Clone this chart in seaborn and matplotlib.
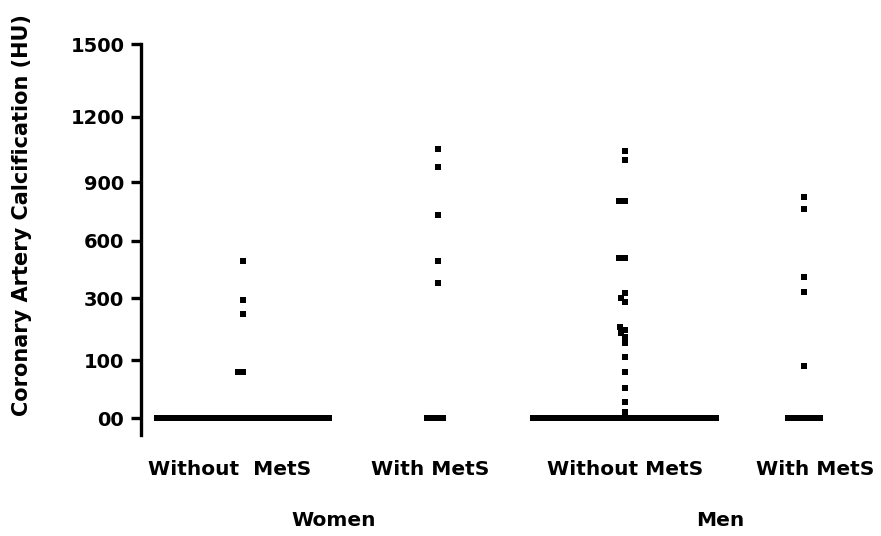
import matplotlib
matplotlib.use("Agg")
import matplotlib.pyplot as plt
import numpy as np
import pandas as pd
import seaborn as sns


GROUPS = ["women_without", "women_with", "men_without", "men_with"]
CATEGORY_LABELS = ["Without  MetS", "With MetS", "Without MetS", "With MetS"]
SEX_LABELS = ["Women", "Men"]

# number of subjects sitting at 0 HU in each group
ZERO_COUNTS = [33, 4, 35, 7]

# non-zero calcification scores (HU)
WOMEN_WITHOUT = [80, 80, 247, 293, 495]
WOMEN_WITH = [381, 495, 731, 968, 1052]
MEN_WITHOUT = [11, 28, 52, 80, 111, 154, 175, 186, 197, 207, 286, 299, 325,
               512, 512, 805, 805, 1002, 1044]
MEN_WITH = [90, 330, 412, 763, 825]

TICK_VALUES = [0, 100, 300, 600, 900, 1200, 1500]
TICK_LABELS = ["00", "100", "300", "600", "900", "1200", "1500"]

# the axis is segmented: each labelled value sits at this position on the axis
SCALE_VALUES = [-100] + TICK_VALUES
SCALE_POS = [-58, 0, 58, 120, 177, 236, 301, 374]

GROUP_POS = {"women_without": 0.0, "women_with": 0.52, "men_without": 1.02, "men_with": 1.5}
LABEL_POS = [-0.035, 0.5, 1.02, 1.53]
SEX_POS = [0.243, 1.275]


def fwd(v):
    return np.interp(v, SCALE_VALUES, SCALE_POS)


def inv(p):
    return np.interp(p, SCALE_POS, SCALE_VALUES)


def build_frame() -> pd.DataFrame:
    values = [WOMEN_WITHOUT, WOMEN_WITH, MEN_WITHOUT, MEN_WITH]
    rows = []
    for group, n_zero, vals in zip(GROUPS, ZERO_COUNTS, values):
        for v in [0] * n_zero + list(vals):
            rows.append({"group": group, "pos": GROUP_POS[group], "hu": v})
    return pd.DataFrame(rows)


def main() -> None:
    sns.set_theme(style="white")
    plt.rcParams["font.family"] = ["DejaVu Sans"]
    plt.rcParams["font.weight"] = "bold"
    plt.rcParams["text.color"] = "black"

    df = build_frame()

    fig = plt.figure(figsize=(8.81, 5.36), dpi=100)
    fig.patch.set_facecolor("white")
    ax = fig.add_axes([141 / 881, 101 / 536, (870 - 141) / 881, 391 / 536])
    ax.set_yscale("function", functions=(fwd, inv))

    for group in GROUPS:
        sns.swarmplot(
            data=df[df["group"] == group],
            x="pos",
            y="hu",
            native_scale=True,
            orient="x",
            color="black",
            marker="s",
            size=3.7,
            linewidth=0,
            ax=ax,
        )

    ax.set_xlim(-0.273, 1.676)
    ax.set_ylim(inv(-17), 1500)
    ax.set_xticks([])
    ax.set_yticks(TICK_VALUES, TICK_LABELS)
    ax.set_xlabel("")
    ax.set_ylabel("")

    for side in ["top", "right", "bottom"]:
        ax.spines[side].set_visible(False)
    ax.spines["left"].set_linewidth(2.4)
    ax.spines["left"].set_color("black")
    ax.tick_params(axis="y", left=True, length=7, width=2.4, pad=5,
                   labelsize=14, colors="black", direction="out")
    for lbl in ax.get_yticklabels():
        lbl.set_fontweight("bold")

    trans = ax.get_xaxis_transform()
    for x, label in zip(LABEL_POS, CATEGORY_LABELS):
        ax.text(x, -0.0895, label, transform=trans, ha="center", va="center",
                fontsize=14.5, fontweight="bold", color="black")
    for x, label in zip(SEX_POS, SEX_LABELS):
        ax.text(x, -0.2174, label, transform=trans, ha="center", va="center",
                fontsize=14.5, fontweight="bold", color="black")

    fig.text(22 / 881, (536 - 215) / 536, "Coronary Artery Calcification (HU)",
             rotation=90, ha="center", va="center", fontsize=15,
             fontweight="bold", color="black")

    fig.savefig("out.png", dpi=100, facecolor="white")


if __name__ == "__main__":
    main()
